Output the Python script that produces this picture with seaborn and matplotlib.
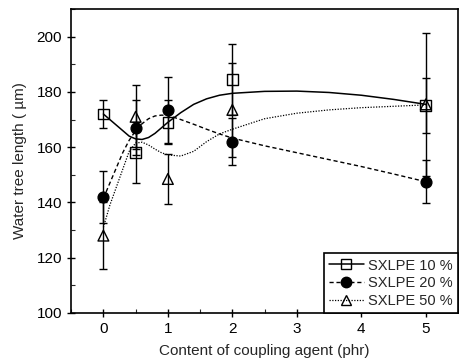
import matplotlib
matplotlib.use('Agg')
import matplotlib.pyplot as plt
from matplotlib.lines import Line2D
from matplotlib.ticker import MultipleLocator
import seaborn as sns
import numpy as np

# measured points (coupling agent content, phr)
x_pts = [0, 0.5, 1, 2, 5]
y_10 = [172, 158, 169, 184.5, 175]
err_10 = [5, 11, 8, 13, 10]
y_20 = [142, 167, 173.5, 162, 147.5]
err_20 = [9.5, 10, 12, 8.5, 7.7]
y_50 = [128, 171, 148.5, 173.5, 175.5]
err_50 = [12, 11.5, 9, 17, 26]

# smoothed guide curves
cx = [0, 0.1, 0.2, 0.3, 0.4, 0.5, 0.6, 0.7, 0.8, 0.9, 1.0, 1.2, 1.4, 1.6, 1.8,
      2.0, 2.5, 3.0, 3.5, 4.0, 4.5, 5.0]
c_10 = [172, 170, 168, 166, 164, 163, 162.8, 163.5, 165, 167, 169, 172.5, 175.5,
        177.5, 178.8, 179.5, 180.2, 180.3, 179.8, 178.8, 177.3, 175.5]
c_20 = [141.5, 147, 152.5, 158, 162.5, 166, 168.5, 170.3, 171.3, 171.6, 171.5, 170,
        168.3, 166.5, 164.8, 163.3, 160.5, 158, 155.5, 153, 150.3, 147.5]
c_50 = [131, 139, 145.5, 152, 158.5, 161.5, 161.8, 160.8, 159.3, 158, 157.2, 156.8,
        158.5, 162, 164.8, 166.5, 170.3, 172.3, 173.5, 174.3, 174.8, 175.3]

labels = ['SXLPE 10 %', 'SXLPE 20 %', 'SXLPE 50 %']

sns.set_style("ticks")
plt.rcParams['font.family'] = ['Liberation Sans', 'DejaVu Sans']

fig = plt.figure(figsize=(4.59, 3.61), dpi=100)
ax = fig.add_axes([0.155, 0.133, 0.843, 0.842])

styles = [
    (c_10, y_10, err_10, 's', '-', 1.1, 'none'),
    (c_20, y_20, err_20, 'o', (0, (3, 2)), 1.0, 'black'),
    (c_50, y_50, err_50, '^', (0, (1, 1.2)), 0.9, 'none'),
]

handles = []
for (curve, yv, ev, mk, ls, lw, fc), lab in zip(styles, labels):
    sns.lineplot(x=cx, y=curve, ax=ax, color='black', linestyle=ls, linewidth=lw,
                 sort=False, estimator=None)
    ax.errorbar(x_pts, yv, yerr=ev, fmt='none', ecolor='black', elinewidth=1.0,
                capsize=3, capthick=1.0)
    sns.scatterplot(x=x_pts, y=yv, ax=ax, marker=mk, s=60, facecolor=fc,
                    edgecolor='black', linewidth=1.0, zorder=5)
    handles.append(Line2D([], [], color='black', linestyle=ls, linewidth=lw,
                          marker=mk, markersize=7.5, markerfacecolor=fc,
                          markeredgecolor='black'))

ax.set_xlim(-0.5, 5.5)
ax.set_ylim(100, 210)
ax.set_xticks([0, 1, 2, 3, 4, 5])
ax.set_yticks([100, 120, 140, 160, 180, 200])
ax.xaxis.set_minor_locator(MultipleLocator(0.5))
ax.yaxis.set_minor_locator(MultipleLocator(10))
ax.tick_params(which='major', direction='inout', length=6, width=1.0,
               labelsize=11, colors='black')
ax.tick_params(which='minor', direction='in', length=3, width=0.8)
for sp in ax.spines.values():
    sp.set_visible(True)
    sp.set_color('black')
    sp.set_linewidth(1.2)

ax.set_xlabel('Content of coupling agent (phr)', fontsize=11, labelpad=6)
ax.set_ylabel('Water tree length ( \u00b5m)', fontsize=11, labelpad=7)

leg = ax.legend(handles, labels, loc='lower right', fontsize=10.5, frameon=True,
                fancybox=False, edgecolor='black', handlelength=2.4,
                handletextpad=0.3, borderaxespad=0.0, labelspacing=0.25,
                borderpad=0.35)
leg.get_frame().set_linewidth(1.2)
leg.get_frame().set_alpha(1)

plt.savefig('out.png', dpi=100)
